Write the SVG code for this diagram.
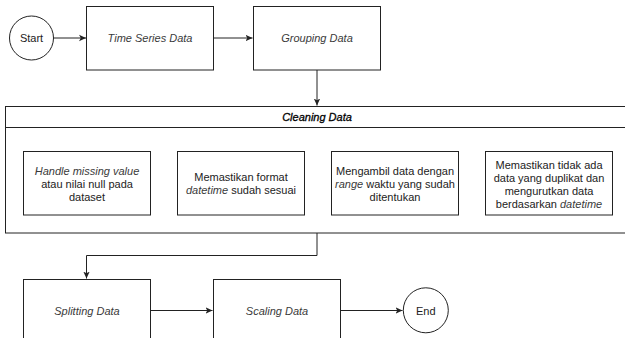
<svg xmlns="http://www.w3.org/2000/svg" width="625" height="338" viewBox="0 0 625 338">
<style>
.box{fill:#fff;stroke:#222;stroke-width:1}
.ln{fill:none;stroke:#222;stroke-width:1}
text{font-family:"Liberation Sans",Arial,sans-serif;font-size:11px;fill:#222;text-anchor:middle}
.it{font-style:italic;fill:#3a3a3a}
.hd{font-style:italic;fill:#000;stroke:#000;stroke-width:0.3}
</style>
<defs>
<marker id="ah" markerWidth="8" markerHeight="8" refX="7" refY="4" orient="auto" markerUnits="userSpaceOnUse">
<path d="M0,0.8 L7,4 L0,7.2 L1.8,4 Z" fill="#222"/>
</marker>
</defs>
<rect width="625" height="338" fill="#fff"/>
<g id="connectors">
<path class="ln" d="M53.5,38 H86" marker-end="url(#ah)"/>
<path class="ln" d="M213.5,38 H252.5" marker-end="url(#ah)"/>
<path class="ln" d="M317,70 V105.5" marker-end="url(#ah)"/>
<path class="ln" d="M150.5,183.5 H176.5" marker-end="url(#ah)"/>
<path class="ln" d="M304.5,183.5 H330.5" marker-end="url(#ah)"/>
<path class="ln" d="M458.5,183.5 H484.5" marker-end="url(#ah)"/>
<path class="ln" d="M317,233 V255.5 H86.5 V278.5" marker-end="url(#ah)"/>
<path class="ln" d="M150.5,310.5 H212.5" marker-end="url(#ah)"/>
<path class="ln" d="M340.5,310.5 H402.5" marker-end="url(#ah)"/>
</g>
<g id="start">
<circle class="box" cx="31.5" cy="38" r="22"/>
<text x="31.5" y="42">Start</text>
</g>
<g id="timeseries">
<rect class="box" x="86.5" y="6.5" width="127" height="63.5"/>
<text class="it" x="150" y="42">Time Series Data</text>
</g>
<g id="grouping">
<rect class="box" x="253.5" y="6.5" width="127" height="63.5"/>
<text class="it" x="317" y="42">Grouping Data</text>
</g>
<g id="cleaning">
<rect class="box" x="5.5" y="106.5" width="626" height="126.5"/>
<line class="ln" x1="5.5" y1="127.5" x2="631.5" y2="127.5"/>
<text class="hd" x="317" y="121">Cleaning Data</text>
</g>
<g id="handle">
<rect class="box" x="23.5" y="151.5" width="127" height="63.5"/>
<text x="87" y="174.5"><tspan class="it">Handle missing value</tspan></text>
<text x="87" y="187.8">atau nilai null pada</text>
<text x="87" y="201">dataset</text>
</g>
<g id="format">
<rect class="box" x="177.5" y="151.5" width="127" height="63.5"/>
<text x="241" y="180.8">Memastikan format</text>
<text x="241" y="194"><tspan class="it">datetime</tspan> sudah sesuai</text>
</g>
<g id="range">
<rect class="box" x="331.5" y="151.5" width="127" height="63.5"/>
<text x="395" y="174.5">Mengambil data dengan</text>
<text x="395" y="187.8"><tspan class="it">range</tspan> waktu yang sudah</text>
<text x="395" y="201">ditentukan</text>
</g>
<g id="duplikat">
<rect class="box" x="485.5" y="151.5" width="127" height="63.5"/>
<text x="549" y="168.8">Memastikan tidak ada</text>
<text x="549" y="181.8">data yang duplikat dan</text>
<text x="549" y="194.8">mengurutkan data</text>
<text x="549" y="207.8">berdasarkan <tspan class="it">datetime</tspan></text>
</g>
<g id="splitting">
<rect class="box" x="23.5" y="279.5" width="127" height="63.5"/>
<text class="it" x="87" y="314.7">Splitting Data</text>
</g>
<g id="scaling">
<rect class="box" x="213.5" y="279.5" width="127" height="63.5"/>
<text class="it" x="277" y="314.7">Scaling Data</text>
</g>
<g id="end">
<circle class="box" cx="425.8" cy="310.3" r="22.5"/>
<text x="425.8" y="314.7">End</text>
</g>
</svg>
